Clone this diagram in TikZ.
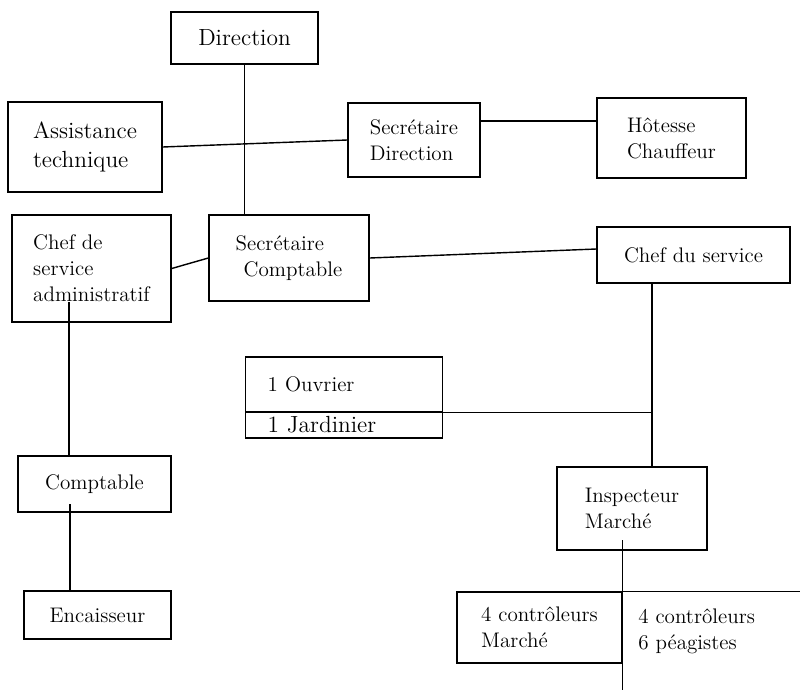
\documentclass[tikz,border=0pt]{standalone}
\usepackage{fontspec}
\usepackage{tikz}
\usetikzlibrary{positioning, calc}

\tikzset{
  poste/.style 2 args={draw, line width=0.8pt, minimum width=#1*0.02cm, minimum height=#2*0.02cm,
    align=left, inner sep=2pt, font=\fontsize{12}{14.8}\selectfont},
  grand/.style={font=\fontsize{13.3}{16.5}\selectfont},
  cellule/.style={draw, line width=0.8pt, anchor=west, text width=3.06cm, inner xsep=0.44cm,
    inner ysep=1pt, align=left, font=\fontsize{12}{14.8}\selectfont},
  lien/.style={line width=0.8pt}
}

\begin{document}
\begin{tikzpicture}[x=0.02cm, y=-0.02cm]
    \useasboundingbox (0,0) rectangle (800,693);

    % Direction
    \node[poste={147}{52}, grand] (dir) at (244.5,38) {Direction};
    \node[poste={154}{90}, grand] (assist) at (85,147) {Assistance\\technique};
    \node[poste={132}{74}] (secdir) at (414,140) {Secrétaire\\Direction};
    \node[poste={149}{80}] (hot) at (671.5,138) {Hôtesse\\Chauffeur};

    % Services
    \node[poste={159}{107}] (adm) at (91.5,268.5) {Chef de\\service\\administratif};
    \node[poste={160}{86}] (seccpt) at (289,258) {Secrétaire\\\hspace*{0.16cm}Comptable};
    \node[poste={193}{56}] (chefsvc) at (693.5,255) {Chef du service};

    % Ouvrier / Jardinier
    \node[cellule, minimum height=1.1cm] (ouvrier) at (245,384.5) {1 Ouvrier};
    \node[cellule, minimum height=0.52cm, grand] (jardin) at (245,425) {1 Jardinier};

    % Comptabilite
    \node[poste={153}{56}] (compta) at (94.5,484) {Comptable};
    \node[poste={147}{48}] (enc) at (97.5,615) {Encaisseur};

    % Marche
    \node[poste={150}{83}] (insp) at (632,508.5) {Inspecteur\\Marché};
    \node[poste={165}{71}] (ctrl) at (539.5,627.5) {4 contrôleurs\\Marché};
    \node[align=left, anchor=west, inner sep=0pt, font=\fontsize{12}{14.8}\selectfont] (peage) at (638,631) {4 contrôleurs\\6 péagistes};

    % Liaisons
    \coordinate (jonc) at (652,412);
    \coordinate (a1) at (69,302);
    \coordinate (a2) at (70,504);
    \coordinate (i1) at (622,540);
    \coordinate (bordD) at (800,593);
    \coordinate (basC) at (620,690);

    \draw[lien] (dir.south) -- (dir.south |- seccpt.north);
    \draw[lien] (assist.east) -- (secdir.west);
    \draw[lien] ($(secdir.north east)!.25!(secdir.south east)$) coordinate (h1) -- (h1 -| hot.west);
    \draw[lien] (adm.east) -- (seccpt.west);
    \draw[lien] (seccpt.east) -- ($(chefsvc.west)+(0,-6)$);
    \draw[lien] (chefsvc.south -| jonc) -- (insp.north -| jonc);
    \draw[lien] (ouvrier.south east) -- (ouvrier.south east -| jonc);
    \draw[lien] (a1) -- (a1 |- compta.north);
    \draw[lien] (a2) -- (a2 |- enc.north);
    \draw[lien] (ctrl.north east |- i1) -- (ctrl.north east) -- (ctrl.north east -| bordD);
    \draw[lien] (ctrl.south east) -- (ctrl.south east |- basC);
\end{tikzpicture}
\end{document}
